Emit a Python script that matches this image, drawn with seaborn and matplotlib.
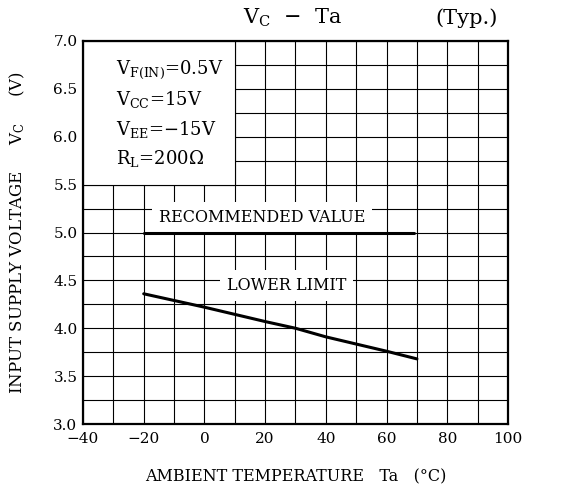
import matplotlib
matplotlib.use("Agg")
import matplotlib.pyplot as plt
import seaborn as sns
import pandas as pd
import numpy as np
from matplotlib.patches import Rectangle

# Data
rec_temp = [-20, 69]
rec_volt = [5.0, 5.0]
low_temp = [-20, 0, 20, 30, 40, 60, 70]
low_volt = [4.36, 4.22, 4.07, 4.0, 3.91, 3.76, 3.68]
x_ticks = [-40, -20, 0, 20, 40, 60, 80, 100]
y_ticks = [3.0, 3.5, 4.0, 4.5, 5.0, 5.5, 6.0, 6.5, 7.0]

sns.set_theme(style="white")
plt.rcParams['font.family'] = ['DejaVu Serif']
plt.rcParams['mathtext.fontset'] = 'dejavuserif'
plt.rcParams['text.color'] = 'black'
plt.rcParams['axes.labelcolor'] = 'black'

fig = plt.figure(figsize=(5.68, 4.88), dpi=100)
ax = fig.add_axes([83/568, 1-424/488, (508-83)/568, (424-41)/488])

ax.set_xlim(-40, 100)
ax.set_ylim(3.0, 7.0)
ax.set_xticks(x_ticks)
ax.set_xticks(np.arange(-40, 101, 10), minor=True)
ax.set_yticks(y_ticks)
ax.set_yticks(np.arange(3.0, 7.01, 0.25), minor=True)
ax.set_xticklabels(["\u2212" + str(-t) if t < 0 else str(t) for t in x_ticks], fontsize=11)
ax.set_yticklabels([f"{t:.1f}" for t in y_ticks], fontsize=11)
ax.grid(which='both', color='black', linewidth=0.8)
ax.set_axisbelow(True)
ax.tick_params(axis='x', which='both', length=0, pad=6, colors='black')
ax.tick_params(axis='y', which='both', length=0, pad=4, colors='black')
for s in ax.spines.values():
    s.set_linewidth(1.6)
    s.set_color('black')
    s.set_zorder(10)

# Condition box
ax.add_patch(Rectangle((-40, 5.5), 50, 1.5, facecolor='white', edgecolor='black',
                       linewidth=0.8, zorder=2))
cond = [r"V$_{\mathrm{F(IN)}}$=0.5V", r"V$_{\mathrm{CC}}$=15V",
        r"V$_{\mathrm{EE}}$=$-$15V", r"R$_{\mathrm{L}}$=200$\Omega$"]
cond_y = [6.70, 6.39, 6.08, 5.77]
for t, yy in zip(cond, cond_y):
    ax.text(-29, yy, t, fontsize=13, va='center', ha='left', zorder=3)

df_rec = pd.DataFrame({"Ta": rec_temp, "Vc": rec_volt})
df_low = pd.DataFrame({"Ta": low_temp, "Vc": low_volt})
sns.lineplot(data=df_rec, x="Ta", y="Vc", ax=ax, color='black', linewidth=2.2, zorder=4)
sns.lineplot(data=df_low, x="Ta", y="Vc", ax=ax, color='black', linewidth=2.2, zorder=4)

ax.text(19, 5.16, "RECOMMENDED VALUE", fontsize=11.5, ha='center', va='center', zorder=3,
        bbox=dict(facecolor='white', edgecolor='none', pad=5))
ax.text(27, 4.45, "LOWER LIMIT", fontsize=11.5, ha='center', va='center', zorder=3,
        bbox=dict(facecolor='white', edgecolor='none', pad=5))

ax.set_xlabel("AMBIENT TEMPERATURE   Ta   (\u00b0C)", fontsize=11.5, labelpad=16)
ax.set_ylabel(r"INPUT SUPPLY VOLTAGE     V$_{\mathrm{C}}$     (V)", fontsize=12, labelpad=19)

fig.text(292/568, 1-18/488, r"V$_{\mathrm{C}}$  $-$  Ta", fontsize=15, ha='center', va='center')
fig.text(498/568, 1-18/488, "(Typ.)", fontsize=15, ha='right', va='center')

fig.savefig("out.png", dpi=100)
